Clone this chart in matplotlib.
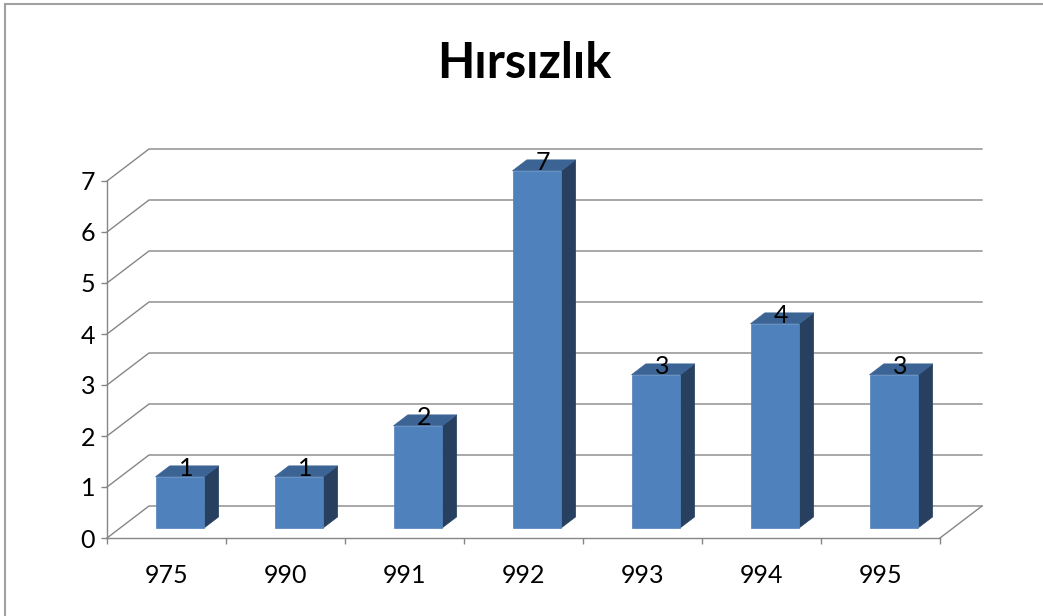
import matplotlib.pyplot as plt
from matplotlib.patches import Polygon, Rectangle

# ---- veriler ----
kategoriler = ['975', '990', '991', '992', '993', '994', '995']
degerler = [1, 1, 2, 7, 3, 4, 3]
y_etiketleri = [0, 1, 2, 3, 4, 5, 6, 7]
baslik = 'Hırsızlık'

plt.rcParams['font.family'] = ['Lato', 'DejaVu Sans']

W, H = 1043, 616
fig = plt.figure(figsize=(W / 100, H / 100), dpi=100)

# ön düzlem: x 107..940 px, y 538..181 px
ax = fig.add_axes([107 / W, (H - 538) / H, (940 - 107) / W, (538 - 181) / H])
n = len(kategoriler)
ymax = max(y_etiketleri)
ax.set_xlim(0, n)
ax.set_ylim(0, ymax)

# derinlik vektörü (veri birimi cinsinden)
px_x = (940 - 107) / n
px_y = (538 - 181) / ymax
DX = 42 / px_x
DY = 32 / px_y


def proj(x, y, z):
    return (x + z * DX, y + z * DY)


izgara = '#868686'

# yan duvar ve arka duvar çizgileri
for v in y_etiketleri:
    pts = [proj(0, v, 0), proj(0, v, 1), proj(n, v, 1)]
    ax.plot([p[0] for p in pts], [p[1] for p in pts], color=izgara, lw=1,
            clip_on=False, zorder=1)
# zemin sağ kenarı
p0, p1 = proj(n, 0, 0), proj(n, 0, 1)
ax.plot([p0[0], p1[0]], [p0[1], p1[1]], color=izgara, lw=1, clip_on=False, zorder=1)

# 3B sütunlar
on_renk = '#4F81BD'
ust_renk = '#3B6494'
yan_renk = '#28405F'
bw = 0.41
z0, z1 = 0.32, 0.66
for i, v in enumerate(degerler):
    x0 = i + (1 - bw) / 2
    x1 = x0 + bw
    on = [proj(x0, 0, z0), proj(x1, 0, z0), proj(x1, v, z0), proj(x0, v, z0)]
    ust = [proj(x0, v, z0), proj(x1, v, z0), proj(x1, v, z1), proj(x0, v, z1)]
    yan = [proj(x1, 0, z0), proj(x1, 0, z1), proj(x1, v, z1), proj(x1, v, z0)]
    for pts, c in [(yan, yan_renk), (ust, ust_renk), (on, on_renk)]:
        ax.add_patch(Polygon(pts, closed=True, facecolor=c, edgecolor=c,
                             lw=0.5, clip_on=False, zorder=3))
    lx, ly = proj(i + 0.5, v, (z0 + z1) / 2)
    ax.annotate(str(v), (lx, ly), xytext=(-1, 3), textcoords='offset pixels',
                ha='center', va='center', fontsize=18, zorder=5,
                annotation_clip=False)

# eksenler
for s in ['top', 'right']:
    ax.spines[s].set_visible(False)
for s in ['left', 'bottom']:
    ax.spines[s].set_color(izgara)
    ax.spines[s].set_linewidth(1)
    ax.spines[s].set_zorder(2)

ax.set_yticks(y_etiketleri)
ax.set_yticklabels([str(v) for v in y_etiketleri])
ax.tick_params(axis='y', length=4.5, width=1, color=izgara, labelsize=18, pad=4)

ax.set_xticks(range(n + 1))
ax.set_xticklabels([])
ax.set_xticks([i + 0.5 for i in range(n)], minor=True)
ax.set_xticklabels(kategoriler, minor=True)
ax.tick_params(axis='x', which='major', length=4.5, width=1, color=izgara)
ax.tick_params(axis='x', which='minor', length=0, labelsize=18, pad=19)

fig.text(0.503, (H - 63) / H, baslik, ha='center', va='center',
         fontsize=35, fontweight='bold')

# grafik alanı çerçevesi
fig.patches.append(Rectangle((5 / W, -0.05), 1.2, (H - 4) / H + 0.05,
                             transform=fig.transFigure, fill=False,
                             edgecolor='#A0A0A0', lw=1.5))

fig.savefig('out.png', dpi=100)
